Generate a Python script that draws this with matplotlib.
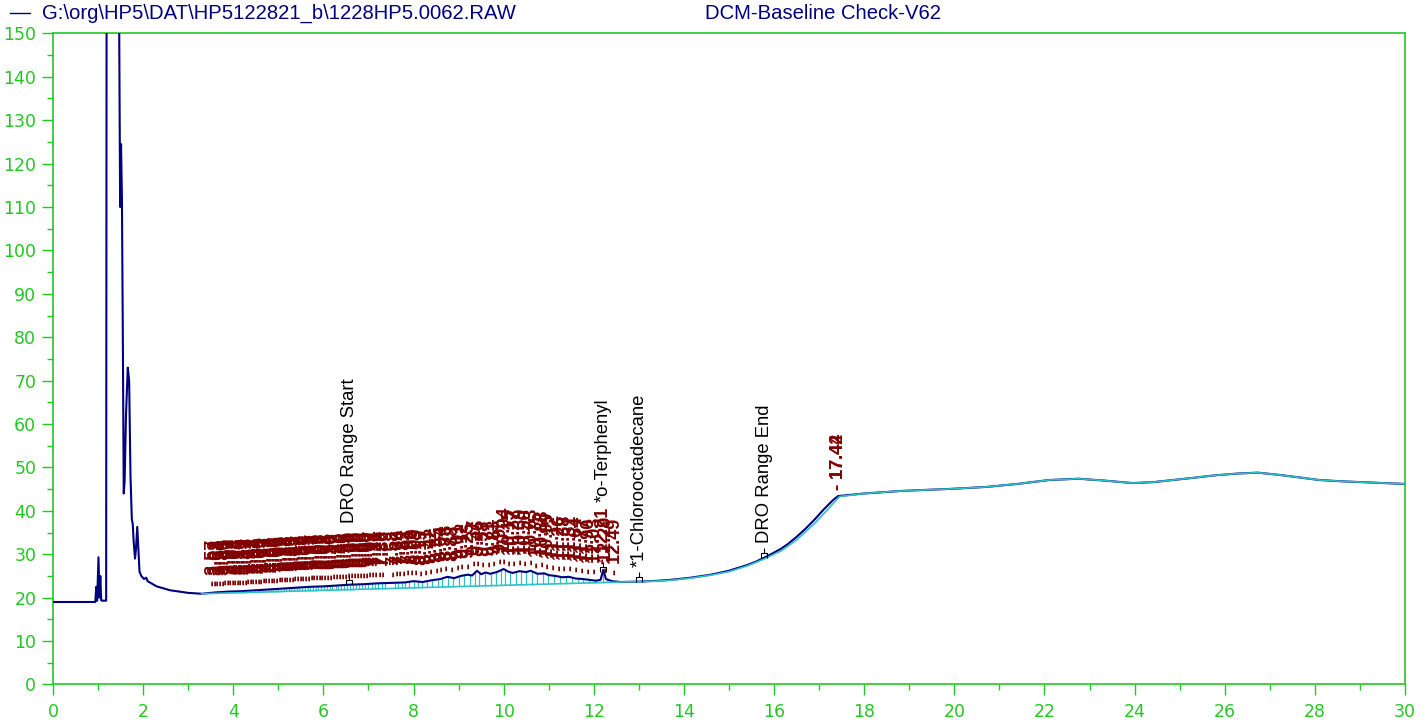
import numpy as np
import matplotlib
matplotlib.use('Agg')
import matplotlib.pyplot as plt
from matplotlib.lines import Line2D
from matplotlib.path import Path
from matplotlib.ticker import MultipleLocator

plt.rcParams['font.family'] = ['Liberation Sans', 'DejaVu Sans']

# Detector trace, time [min] / signal [mV]
trace_t = [0.0, 0.94, 0.96, 0.98, 1.01, 1.03, 1.05, 1.07, 1.09, 1.18, 1.19, 1.46,
           1.47, 1.49, 1.51, 1.53, 1.55, 1.57, 1.59, 1.62, 1.66, 1.69, 1.72, 1.75,
           1.77, 1.79, 1.82, 1.84, 1.87, 1.89, 1.92, 1.96, 2.02, 2.07, 2.10, 2.30,
           2.60, 3.00, 3.30, 3.60, 3.90, 4.20, 4.50, 4.80, 5.10, 5.40, 5.70, 6.00,
           6.30, 6.60, 6.90, 7.20, 7.50, 7.80, 8.00, 8.20, 8.40, 8.60, 8.75, 8.90,
           9.05, 9.20, 9.30, 9.41, 9.50, 9.60, 9.70, 9.85, 10.00, 10.10, 10.20,
           10.35, 10.50, 10.60, 10.75, 10.90, 11.00, 11.15, 11.30, 11.45, 11.60,
           11.75, 11.90, 12.05, 12.15, 12.21, 12.27, 12.40, 12.60, 13.00, 13.35,
           13.70, 14.15, 14.60, 15.00, 15.40, 15.60, 15.78, 15.95, 16.16, 16.30,
           16.50, 16.70, 16.90, 17.10, 17.30, 17.42, 18.00, 18.85,
           20.00, 20.70, 21.40, 22.10, 22.75, 23.30, 23.95, 24.40, 24.85, 25.30,
           25.80, 26.30, 26.73, 27.20, 27.65, 28.10, 28.60, 29.30, 30.00]
trace_y = [19.0, 19.0, 22.5, 19.3, 29.3, 20.0, 25.0, 19.4, 19.3, 19.3, 165.0, 165.0,
           150.0, 110.0, 124.5, 112.0, 80.0, 44.0, 47.0, 62.0, 73.0, 70.0, 48.0, 38.0,
           37.0, 33.0, 29.0, 31.0, 36.3, 32.0, 26.0, 25.0, 24.3, 24.6, 23.8, 22.6,
           21.7, 21.1, 20.9, 21.2, 21.4, 21.5, 21.7, 21.9, 22.1, 22.3, 22.5, 22.6,
           22.8, 23.0, 23.1, 23.3, 23.4, 23.5, 23.8, 23.6, 24.0, 24.3, 24.8, 24.5,
           25.0, 25.3, 25.1, 26.2, 25.4, 25.8, 25.5, 25.9, 26.6, 26.0, 25.7,
           26.1, 25.9, 26.2, 25.5, 25.6, 25.2, 25.0, 24.7, 24.8, 24.4,
           24.3, 24.1, 23.9, 24.1, 26.4, 24.3, 23.8, 23.6, 23.7, 23.85,
           24.1, 24.6, 25.3, 26.2, 27.5, 28.3, 29.2, 30.1, 31.3, 32.3,
           34.0, 35.9, 38.0, 40.3, 42.4, 43.4, 44.0, 44.6,
           45.1, 45.5, 46.2, 47.1, 47.4, 47.0, 46.4, 46.6, 47.1, 47.6,
           48.2, 48.6, 48.8, 48.3, 47.7, 47.1, 46.8, 46.5, 46.2]

# Integration baseline (after 18 min it follows the trace)
base_t = [3.30, 12.60, 13.35, 13.70, 14.15, 14.60, 15.00, 15.40, 15.78, 16.16, 16.50,
          16.90, 17.20, 17.45, 18.00]
base_y = [20.9, 23.6, 23.8, 24.0, 24.5, 25.2, 26.0, 27.3, 28.9, 30.8, 33.3,
          37.1, 40.4, 43.3, 44.0]

# Integrated peaks, retention time [min]
peak_rt = [3.57, 3.63, 3.68, 3.74, 3.80, 3.85, 3.91, 3.97, 4.02, 4.08,
           4.14, 4.19, 4.25, 4.31, 4.37, 4.42, 4.48, 4.54, 4.60, 4.65, 4.71, 4.77,
           4.83, 4.89, 4.94, 5.00, 5.06, 5.12, 5.18, 5.23, 5.29, 5.35, 5.41, 5.47,
           5.53, 5.59, 5.65, 5.71, 5.77, 5.83, 5.89, 5.95, 6.01, 6.08, 6.14, 6.20,
           6.27, 6.33, 6.40, 6.46, 6.53, 6.60, 6.66, 6.73, 6.80, 6.86, 6.93, 7.00,
           7.07, 7.14, 7.21, 7.29, 7.36, 7.58, 7.66, 7.74, 7.82, 7.91, 8.00, 8.09,
           8.19, 8.31, 8.42, 8.55, 8.64, 8.76, 8.88, 9.01, 9.12, 9.25, 9.37, 9.46,
           9.58, 9.71, 9.83, 9.95, 10.04, 10.15, 10.27, 10.39, 10.50, 10.63, 10.75,
           10.88, 10.99, 11.12, 11.26, 11.38, 11.51, 11.64, 11.77, 11.90, 12.03,
           12.21, 12.29, 12.49, 17.42, 17.44]

# Named compounds and range markers
comp_names = ['DRO Range Start', '*o-Terphenyl', '*1-Chlorooctadecane', 'DRO Range End']
comp_rt = [6.57, 12.20, 13.00, 15.78]

header_file = r'G:\org\HP5\DAT\HP5122821_b\1228HP5.0062.RAW'
header_method = 'DCM-Baseline Check-V62'

green = '#22c822'
navy = '#000080'
cyan = '#30c0c8'
maroon = '#800000'

trace_t = np.array(trace_t)
trace_y = np.array(trace_y)
full_base_t = np.concatenate([base_t, trace_t[trace_t > 18]])
full_base_y = np.concatenate([base_y, trace_y[trace_t > 18]])

fig = plt.figure(figsize=(14.28, 7.24), dpi=100)
ax = fig.add_axes([0.0371, 0.0546, 0.9468, 0.8993])

# trace + baseline
ax.plot(trace_t, trace_y, color=navy, lw=1.5, zorder=3)
ax.plot(full_base_t, full_base_y, color=cyan, lw=1.2, zorder=4)

# drop lines from baseline to the trace at every peak
pk = np.array(peak_rt)
pk_top = np.interp(pk, trace_t, trace_y)
pk_bot = np.interp(pk, full_base_t, full_base_y)
ax.vlines(pk, pk_bot, pk_top, color=cyan, lw=0.9, zorder=2)

# peak labels
for rt, yv in zip(pk, pk_top):
    ax.annotate(f'- {rt:.2f}', (rt, yv), xytext=(0, 4.5), textcoords='offset points',
                rotation=90, ha='center', va='bottom', color=maroon,
                fontsize=13, fontweight='bold', zorder=5)

# compound markers
mk = Path([(-1, 0), (-1, 1.6), (1, 1.6), (1, 0), (0, 1.6), (0, 3.2)],
          [Path.MOVETO, Path.LINETO, Path.LINETO, Path.LINETO, Path.MOVETO, Path.LINETO])
comp_y = np.interp(comp_rt, trace_t, trace_y)
ax.plot(comp_rt, comp_y, ls='none', marker=mk, ms=15, mfc='none', mec='black',
        mew=0.8, zorder=6)
label_y = [37.1, 42.0, 27.1, 32.6]
for name, rt, ly in zip(comp_names, comp_rt, label_y):
    ax.text(rt, ly, name, rotation=90, ha='center', va='bottom', fontsize=13.3,
            color='black', zorder=6)

ax.set_xlim(0, 30)
ax.set_ylim(0, 150)
ax.xaxis.set_major_locator(MultipleLocator(2))
ax.xaxis.set_minor_locator(MultipleLocator(1))
ax.yaxis.set_major_locator(MultipleLocator(10))
ax.yaxis.set_minor_locator(MultipleLocator(5))
for s in ax.spines.values():
    s.set_color(green)
    s.set_linewidth(1.2)
ax.tick_params(which='both', colors=green, labelcolor=green, width=1)
ax.tick_params(which='major', length=8)
ax.tick_params(which='minor', length=4)
ax.tick_params(axis='x', pad=5)
ax.tick_params(axis='y', pad=4)
for lab in ax.get_xticklabels() + ax.get_yticklabels():
    lab.set_family('DejaVu Sans')
    lab.set_fontsize(12.5)

# header
fig.add_artist(Line2D([10 / 1428, 30 / 1428], [0.982, 0.982], color=navy, lw=1))
fig.text(42 / 1428, 0.982, header_file, color=navy, fontsize=14.6, va='center', ha='left')
fig.text(705 / 1428, 0.982, header_method, color=navy, fontsize=14.6, va='center', ha='left')

fig.savefig('out.png', dpi=100)
